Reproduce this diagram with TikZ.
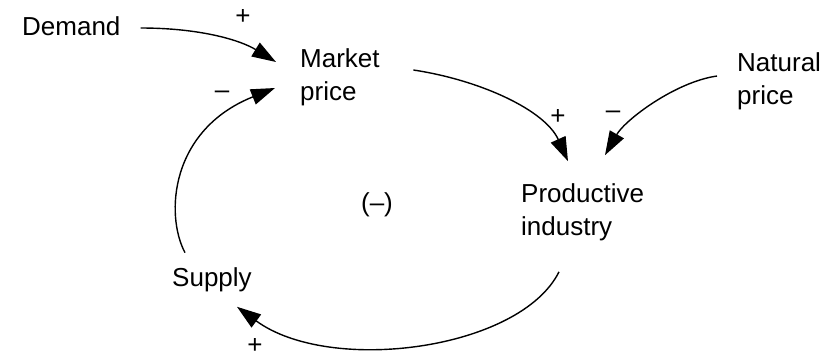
\documentclass[tikz,border=0pt]{standalone}
\usepackage{fontspec}
\setmainfont{Liberation Sans}
\usetikzlibrary{arrows.meta,positioning,calc}

\begin{document}
\begin{tikzpicture}[x=1pt, y=-1pt, >={Triangle[length=24pt,width=16pt]},
    var/.style={inner sep=0pt, anchor=west, align=left, font=\fontsize{26}{33}\selectfont},
    sign/.style={inner sep=0pt, font=\fontsize{26}{33}\selectfont},
    link/.style={->, line width=1.4pt}]
    \useasboundingbox (0,0) rectangle (838,360);

    \node [var] (demand) at (22,26.5) {Demand};
    \node [var] (market) at (300,77) {Market\\price};
    \node [var] (natural) at (737,81) {Natural\\price};
    \node [var] (productive) at (521,212) {Productive\\industry};
    \node [var] (supply) at (172,280) {Supply};
    \node [sign] (loop) at (377,205) {(–)};

    \node [sign] (plusdemand) at (243,17) {+};
    \node [sign] (minussupply) at (222,95) {–};
    \node [sign] (plusmarket) at (558,117) {+};
    \node [sign] (minusnatural) at (613,115) {–};
    \node [sign] (plusproductive) at (255,346) {+};

    \draw [link] ([shift={(20,1.5)}]demand.east) .. controls (200,28) and (240,40) .. ([shift={(-24,-15)}]market.west);
    \draw [link] ([shift={(13,-15)}]supply.north west) .. controls (165,215) and (170,130) .. ([shift={(-25,11)}]market.west);
    \draw [link] ([shift={(33.5,-7)}]market.east) .. controls (480,80) and (545,110) .. ([shift={(47,-22)}]productive.north west);
    \draw [link] ([shift={(-20,-5)}]natural.west) .. controls (675,82) and (625,120) .. ([shift={(84,-28)}]productive.north west);
    \draw [link] ([shift={(38,31)}]productive.south west) .. controls (520,350) and (330,375) .. ([shift={(65,14.5)}]supply.south west);
\end{tikzpicture}
\end{document}
